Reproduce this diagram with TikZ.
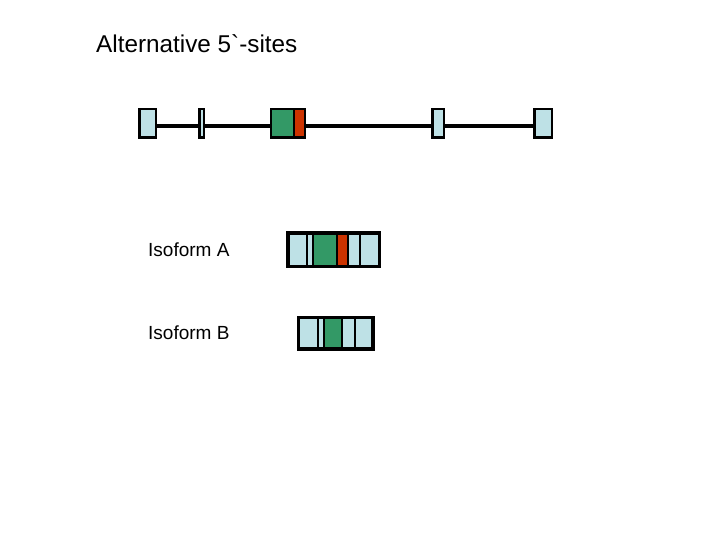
\documentclass[tikz,border=0pt]{standalone}
\usepackage{fontspec}
\setmainfont{Liberation Sans}[Ligatures=TeXOff]
\usetikzlibrary{arrows}
\usetikzlibrary{arrows.meta}

\definecolor{exonblue}{RGB}{190,225,230}
\definecolor{exongreen}{RGB}{51,153,102}
\definecolor{exonred}{RGB}{204,51,0}

\begin{document}
\begin{tikzpicture}[x=1pt,y=-1pt,
    exon/.style={draw,line width=2.5pt,inner sep=0pt,minimum height=28.5pt},
    seg/.style={draw,line width=2pt,inner sep=0pt},
    intron/.style={line width=3.8pt},
    label/.style={anchor=base west,inner sep=0pt}]
  \useasboundingbox (0,0) rectangle (720,540);
  \node[label,font=\fontsize{24.3}{28}\selectfont] (title) at (96,52.5) {Alternative 5`-sites};
  \node[label,font=\fontsize{19}{23}\selectfont] (labA) at (148,256.7) {Isoform A};
  \node[label,font=\fontsize{19}{23}\selectfont] (labB) at (148,339.7) {Isoform B};
  % gene
  \begin{scope}
    \node[exon,fill=exonblue,minimum width=16.5pt] (e1) at (147.5,123.5) {};
    \node[exon,fill=exonblue,minimum width=4.5pt] (e2) at (201.5,123.5) {};
    \node[exon,fill=exongreen,minimum width=22.75pt] (e3) at (282.6,123.5) {};
    \node[exon,fill=exonred,minimum width=11.25pt] (e3b) at (299.6,123.5) {};
    \node[exon,fill=exonblue,minimum width=11.5pt] (e4) at (438,123.5) {};
    \node[exon,fill=exonblue,minimum width=17.5pt] (e5) at (543,123.5) {};
    \draw[intron] ([yshift=-2.5pt]e1.east) -- ([yshift=-2.5pt]e2.west);
    \draw[intron] ([yshift=-2.5pt]e2.east) -- ([yshift=-2.5pt]e3.west);
    \draw[intron] ([yshift=-2.5pt]e3b.east) -- ([yshift=-2.5pt]e4.west);
    \draw[intron] ([yshift=-2.5pt]e4.east) -- ([yshift=-2.5pt]e5.west);
  \end{scope}
  % isoform A
  \begin{scope}[every node/.append style={seg,minimum height=32pt}]
    \node[fill=exonblue,minimum width=18.3pt] (a1) at (297.85,249.7) {};
    \node[fill=exonblue,minimum width=5.8pt] (a2) at (309.9,249.7) {};
    \node[fill=exongreen,minimum width=23.9pt] (a3) at (324.75,249.7) {};
    \node[fill=exonred,minimum width=11.6pt] (a4) at (342.5,249.7) {};
    \node[fill=exonblue,minimum width=12pt] (a5) at (354.3,249.7) {};
    \node[fill=exonblue,minimum width=18.4pt] (a6) at (369.5,249.7) {};
    \draw[line width=3pt] (a1.north west) rectangle (a6.south east);
  \end{scope}
  % isoform B
  \begin{scope}[every node/.append style={seg,minimum height=29.7pt}]
    \node[fill=exonblue,minimum width=18.8pt] (b1) at (308.6,333.2) {};
    \node[fill=exonblue,minimum width=6pt] (b2) at (321,333.2) {};
    \node[fill=exongreen,minimum width=18.3pt] (b3) at (333.15,333.2) {};
    \node[fill=exonblue,minimum width=12.4pt] (b4) at (348.5,333.2) {};
    \node[fill=exonblue,minimum width=17.6pt] (b5) at (363.5,333.2) {};
    \draw[line width=3pt] (b1.north west) rectangle (b5.south east);
  \end{scope}
\end{tikzpicture}
\end{document}
